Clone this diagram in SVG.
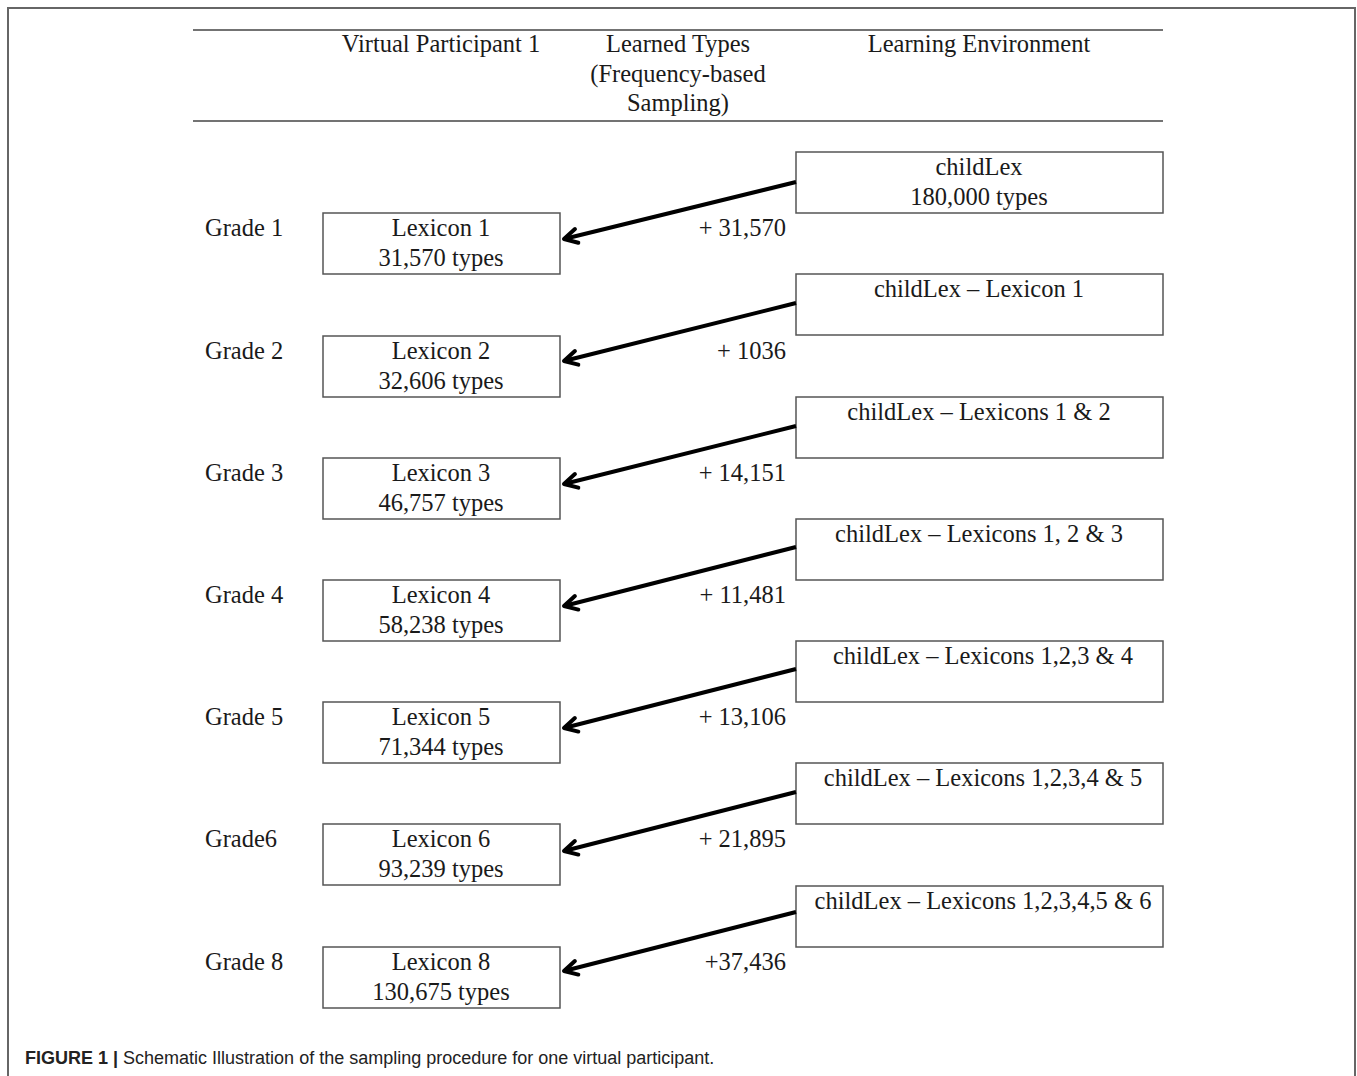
<svg xmlns="http://www.w3.org/2000/svg" width="1357" height="1076" viewBox="0 0 1357 1076">
<style>
.t{font-family:"Liberation Serif","Times New Roman",serif;font-size:24.5px;fill:#1a1a1a}
.c{text-anchor:middle}
.r{text-anchor:end}
.box{fill:#fff;stroke:#555;stroke-width:1.5}
.rule{stroke:#444;stroke-width:1.5}
.arr{stroke:#000;stroke-width:4;fill:none;marker-end:url(#ah)}
.cap{font-family:"Liberation Sans",Arial,sans-serif;font-size:18px;fill:#222}
</style>
<defs>
<marker id="ah" markerUnits="userSpaceOnUse" viewBox="-18 -10 20 20" refX="0" refY="0" markerWidth="20" markerHeight="20" orient="auto">
<path d="M-13,-7 L0,0 L-13,7" fill="none" stroke="#000" stroke-width="4" stroke-linecap="round" stroke-linejoin="round"/>
</marker>
</defs>
<rect width="1357" height="1076" fill="#fff"/>
<path d="M8,1080 V8 H1355 V1080" fill="none" stroke="#666" stroke-width="2"/>
<g id="header">
<line class="rule" x1="193" y1="30" x2="1163" y2="30"/>
<line class="rule" x1="193" y1="121" x2="1163" y2="121"/>
<text class="t c" x="441" y="52">Virtual Participant 1</text>
<text class="t c" x="678" y="52">Learned Types</text>
<text class="t c" x="678" y="82">(Frequency-based</text>
<text class="t c" x="678" y="111">Sampling)</text>
<text class="t c" x="979" y="52">Learning Environment</text>
</g>
<g id="grades">
<text class="t" x="205" y="236">Grade 1</text>
<text class="t" x="205" y="359">Grade 2</text>
<text class="t" x="205" y="481">Grade 3</text>
<text class="t" x="205" y="603">Grade 4</text>
<text class="t" x="205" y="725">Grade 5</text>
<text class="t" x="205" y="847">Grade6</text>
<text class="t" x="205" y="970">Grade 8</text>
</g>
<g id="lex1"><rect class="box" x="323" y="213" width="237" height="61"/><text class="t c" x="441" y="236">Lexicon 1</text><text class="t c" x="441" y="266">31,570 types</text></g>
<g id="lex2"><rect class="box" x="323" y="336" width="237" height="61"/><text class="t c" x="441" y="359">Lexicon 2</text><text class="t c" x="441" y="389">32,606 types</text></g>
<g id="lex3"><rect class="box" x="323" y="458" width="237" height="61"/><text class="t c" x="441" y="481">Lexicon 3</text><text class="t c" x="441" y="511">46,757 types</text></g>
<g id="lex4"><rect class="box" x="323" y="580" width="237" height="61"/><text class="t c" x="441" y="603">Lexicon 4</text><text class="t c" x="441" y="633">58,238 types</text></g>
<g id="lex5"><rect class="box" x="323" y="702" width="237" height="61"/><text class="t c" x="441" y="725">Lexicon 5</text><text class="t c" x="441" y="755">71,344 types</text></g>
<g id="lex6"><rect class="box" x="323" y="824" width="237" height="61"/><text class="t c" x="441" y="847">Lexicon 6</text><text class="t c" x="441" y="877">93,239 types</text></g>
<g id="lex8"><rect class="box" x="323" y="947" width="237" height="61"/><text class="t c" x="441" y="970">Lexicon 8</text><text class="t c" x="441" y="1000">130,675 types</text></g>
<g id="env1"><rect class="box" x="796" y="152" width="367" height="61"/><text class="t c" x="979" y="175">childLex</text><text class="t c" x="979" y="205">180,000 types</text></g>
<g id="env2"><rect class="box" x="796" y="274" width="367" height="61"/><text class="t c" x="979" y="297">childLex – Lexicon 1</text></g>
<g id="env3"><rect class="box" x="796" y="397" width="367" height="61"/><text class="t c" x="979" y="420">childLex – Lexicons 1 &amp; 2</text></g>
<g id="env4"><rect class="box" x="796" y="519" width="367" height="61"/><text class="t c" x="979" y="542">childLex – Lexicons 1, 2 &amp; 3</text></g>
<g id="env5"><rect class="box" x="796" y="641" width="367" height="61"/><text class="t c" x="983" y="664">childLex – Lexicons 1,2,3 &amp; 4</text></g>
<g id="env6"><rect class="box" x="796" y="763" width="367" height="61"/><text class="t c" x="983" y="786">childLex – Lexicons 1,2,3,4 &amp; 5</text></g>
<g id="env7"><rect class="box" x="796" y="886" width="367" height="61"/><text class="t c" x="983" y="909">childLex – Lexicons 1,2,3,4,5 &amp; 6</text></g>
<g id="connectors">
<line class="arr" x1="796" y1="182" x2="564" y2="239"/>
<line class="arr" x1="796" y1="303" x2="564" y2="361"/>
<line class="arr" x1="796" y1="426" x2="564" y2="484"/>
<line class="arr" x1="796" y1="547" x2="564" y2="606"/>
<line class="arr" x1="796" y1="669" x2="564" y2="728"/>
<line class="arr" x1="796" y1="792" x2="564" y2="851"/>
<line class="arr" x1="796" y1="912" x2="564" y2="971"/>
</g>
<g id="learned">
<text class="t r" x="786" y="236">+ 31,570</text>
<text class="t r" x="786" y="359">+ 1036</text>
<text class="t r" x="786" y="481">+ 14,151</text>
<text class="t r" x="786" y="603">+ 11,481</text>
<text class="t r" x="786" y="725">+ 13,106</text>
<text class="t r" x="786" y="847">+ 21,895</text>
<text class="t r" x="786" y="970">+37,436</text>
</g>
<g id="caption"><text class="cap" x="25" y="1064"><tspan font-weight="bold">FIGURE 1 |</tspan> Schematic Illustration of the sampling procedure for one virtual participant.</text></g>
</svg>
